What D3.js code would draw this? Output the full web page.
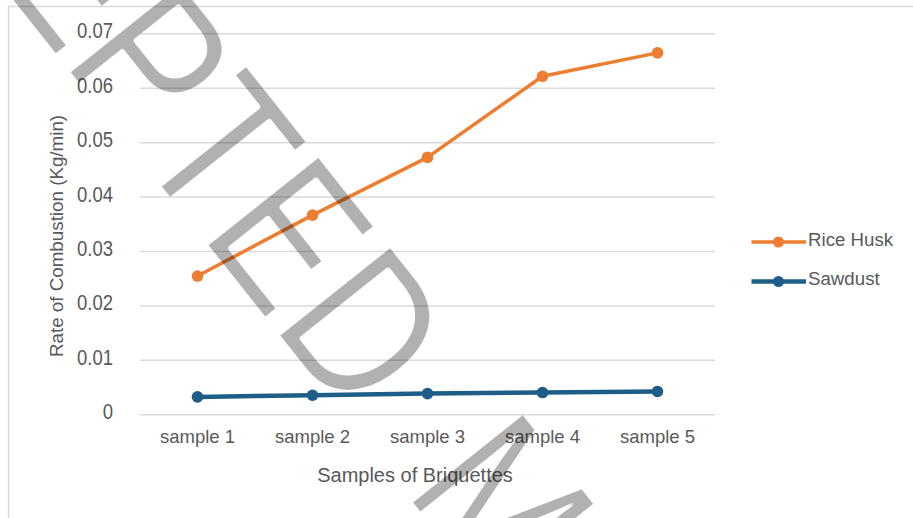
<!DOCTYPE html>
<html>
<head>
<meta charset="utf-8">
<script src="https://cdn.jsdelivr.net/npm/d3@7"></script>
<style>
  html, body { margin: 0; padding: 0; background: #fff; }
  svg { display: block; }
  text { font-family: "Liberation Sans", Arial, sans-serif; }
</style>
</head>
<body>
<svg id="chart" width="913" height="518">
  <defs>
    <filter id="thin" x="-5%" y="-5%" width="110%" height="110%">
      <feMorphology operator="erode" radius="1.3"/>
    </filter>
  </defs>
</svg>
<script>
// ---- data ----
const categories = ["sample 1", "sample 2", "sample 3", "sample 4", "sample 5"];
const riceHusk = [0.0254, 0.0366, 0.0472, 0.0621, 0.0664];
const sawdust = [0.0032, 0.0035, 0.0038, 0.0040, 0.0042];
const yTicks = [0, 0.01, 0.02, 0.03, 0.04, 0.05, 0.06, 0.07];
const seriesNames = ["Rice Husk", "Sawdust"];
const seriesColors = ["#ED7D31", "#1E5D87"];
const xTitle = "Samples of Briquettes";
const yTitle = "Rate of Combustion (Kg/min)";
const stampWords = ["ACCEPTED", "MANUSCRIPT"];

// ---- layout ----
const svg = d3.select("#chart");
const plot = { left: 140, right: 715, top: 33.3, bottom: 414.3 };
const textColor = "#595959";
const gridColor = "#d9d9d9";

const x = d3.scaleBand().domain(categories).range([plot.left, plot.right]);
const y = d3.scaleLinear().domain([0, 0.07]).range([plot.bottom, plot.top]);
const cx = c => x(c) + x.bandwidth() / 2;

// chart frame
svg.append("rect")
  .attr("x", 8.5).attr("y", 6.5)
  .attr("width", 960).attr("height", 600)
  .attr("fill", "none").attr("stroke", gridColor).attr("stroke-width", 1.5);

// horizontal gridlines
svg.append("g")
  .attr("transform", `translate(${plot.left},0)`)
  .call(d3.axisLeft(y).tickValues(yTicks).tickSize(-(plot.right - plot.left)).tickFormat(""))
  .call(g => g.select(".domain").remove())
  .call(g => g.selectAll("line").attr("stroke", gridColor).attr("stroke-width", 1.5));

// y tick labels
svg.append("g")
  .attr("transform", `translate(${plot.left},0)`)
  .call(d3.axisLeft(y).tickValues(yTicks).tickSize(0)
    .tickFormat(d => d === 0 ? "0" : d3.format(".2f")(d)))
  .call(g => g.select(".domain").remove())
  .call(g => g.attr("font-family", null).attr("font-size", null))
  .call(g => g.selectAll("text")
    .attr("x", 0).attr("y", 0).attr("dy", "0.36em")
    .attr("transform", "translate(-27,-3.5) scale(1,1.2)")
    .attr("text-anchor", "end")
    .attr("font-size", 18.5)
    .attr("fill", textColor));

// x tick labels
svg.append("g")
  .attr("transform", `translate(0,${plot.bottom})`)
  .call(d3.axisBottom(x).tickSize(0))
  .call(g => g.select(".domain").remove())
  .call(g => g.attr("font-family", null).attr("font-size", null))
  .call(g => g.selectAll("text")
    .attr("y", 29.2).attr("dy", null)
    .attr("font-size", 18.5)
    .attr("fill", textColor));

// axis titles
svg.append("text")
  .attr("x", 415).attr("y", 481.5)
  .attr("text-anchor", "middle")
  .attr("font-size", 20)
  .attr("fill", textColor)
  .text(xTitle);

svg.append("text")
  .attr("transform", "translate(63,236) rotate(-90)")
  .attr("text-anchor", "middle")
  .attr("font-size", 18.8)
  .attr("fill", textColor)
  .text(yTitle);

// series lines and markers
const line = d3.line()
  .x((d, i) => cx(categories[i]))
  .y(d => y(d));

const series = [riceHusk, sawdust];
const widths = [3.5, 4.5];
series.forEach((vals, s) => {
  svg.append("path")
    .datum(vals)
    .attr("d", line)
    .attr("fill", "none")
    .attr("stroke", seriesColors[s])
    .attr("stroke-width", widths[s])
    .attr("stroke-linejoin", "round");
  svg.append("g")
    .selectAll("circle")
    .data(vals)
    .join("circle")
    .attr("cx", (d, i) => cx(categories[i]))
    .attr("cy", d => y(d))
    .attr("r", 5.8)
    .attr("fill", seriesColors[s]);
});

// legend
const legend = svg.append("g");
const legendRows = [242, 281.5];
seriesNames.forEach((name, s) => {
  const row = legend.append("g").attr("transform", `translate(0,${legendRows[s]})`);
  row.append("line")
    .attr("x1", 751.5).attr("x2", 806)
    .attr("stroke", seriesColors[s]).attr("stroke-width", widths[s]);
  row.append("circle")
    .attr("cx", 778.5).attr("r", 5.5)
    .attr("fill", seriesColors[s]);
  row.append("text")
    .attr("x", 808).attr("y", 3.5)
    .attr("font-size", 18.7)
    .attr("fill", textColor)
    .text(name);
});

// diagonal stamp across the page
const stampAngle = 51.5;               // degrees, direction of the baseline
const stampSize = 208;
const stampP = { u: 85.2, v: 9 };      // start of the "P": along / across the baseline
const stampPtoD = 336.5;               // "P" start to "D" start along the baseline
const stampM = 635;                    // start of the "M" along the baseline

const stampLayer = svg.append("g")
  .attr("filter", "url(#thin)")
  .attr("opacity", 0.3);

const stamp = stampLayer.append("text")
  .attr("x", 0).attr("y", 0)
  .attr("font-size", stampSize)
  .attr("fill", "#000");
stamp.append("tspan").text(stampWords[0]);
const secondWord = stamp.append("tspan").text(" " + stampWords[1]);

const full = stampWords.join(" ");
const node = stamp.node();
const pX = node.getStartPositionOfChar(full.indexOf("P")).x;
const dX = node.getStartPositionOfChar(full.indexOf("D")).x;
const mX = node.getStartPositionOfChar(full.indexOf("M")).x;
const sx = stampPtoD / (dX - pX);
// push the second word out so the gap between words is as wide as printed
secondWord.attr("dx", (stampM - (stampP.u + sx * (mX - pX))) / sx);

const a = stampAngle * Math.PI / 180;
const U = [Math.cos(a), Math.sin(a)];
const V = [Math.sin(a), -Math.cos(a)];
const u0 = stampP.u - sx * pX;
const ox = u0 * U[0] + stampP.v * V[0];
const oy = u0 * U[1] + stampP.v * V[1];
stamp.attr("transform", `translate(${ox},${oy}) rotate(${stampAngle}) scale(${sx},1)`);
</script>
</body>
</html>
